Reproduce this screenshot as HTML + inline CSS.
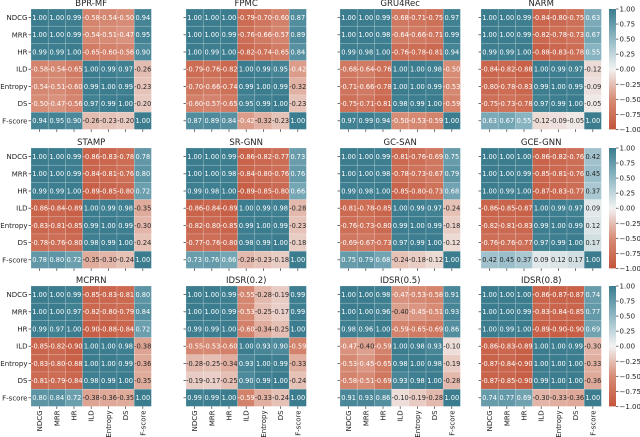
<!DOCTYPE html>
<html><head><meta charset="utf-8">
<style>
html,body{margin:0;padding:0;background:#fff;}
svg{display:block;font-family:"DejaVu Sans","Liberation Sans",sans-serif;}
</style></head>
<body>
<svg id="fig" width="640" height="437" viewBox="0 0 640 437" xmlns="http://www.w3.org/2000/svg">
<defs>
<linearGradient id="cbg" x1="0" y1="1" x2="0" y2="0">
<stop offset="0" stop-color="rgb(195,84,58)"/>
<stop offset="0.25" stop-color="rgb(215,140,118)"/>
<stop offset="0.5" stop-color="rgb(242,242,242)"/>
<stop offset="0.75" stop-color="rgb(145,185,197)"/>
<stop offset="1" stop-color="rgb(59,125,143)"/>
</linearGradient>
</defs>
</svg>
<script>
const metrics = ["NDCG","MRR","HR","ILD","Entropy","DS","F-score"];
const models = ["BPR-MF","FPMC","GRU4Rec","NARM","STAMP","SR-GNN","GC-SAN","GCE-GNN","MCPRN","IDSR(0.2)","IDSR(0.5)","IDSR(0.8)"];
const cbTicks = [1,0.75,0.5,0.25,0,-0.25,-0.5,-0.75,-1];
const mBPRMF=[[1,1,.99,-.58,-.54,-.50,.94],[1,1,.99,-.54,-.51,-.47,.95],[.99,.99,1,-.65,-.60,-.56,.90],[-.58,-.54,-.65,1,.99,.97,-.26],[-.54,-.51,-.60,.99,1,.99,-.23],[-.50,-.47,-.56,.97,.99,1,-.20],[.94,.95,.90,-.26,-.23,-.20,1]];
const mFPMC=[[1,1,1,-.79,-.70,-.60,.87],[1,1,.99,-.76,-.66,-.57,.89],[1,.99,1,-.82,-.74,-.65,.84],[-.79,-.76,-.82,1,.99,.95,-.42],[-.70,-.66,-.74,.99,1,.99,-.32],[-.60,-.57,-.65,.95,.99,1,-.23],[.87,.89,.84,-.42,-.32,-.23,1]];
const mGRU4Rec=[[1,1,.99,-.68,-.71,-.75,.97],[1,1,.98,-.64,-.66,-.71,.99],[.99,.98,1,-.76,-.78,-.81,.94],[-.68,-.64,-.76,1,1,.98,-.50],[-.71,-.66,-.78,1,1,.99,-.53],[-.75,-.71,-.81,.98,.99,1,-.59],[.97,.99,.94,-.50,-.53,-.59,1]];
const mNARM=[[1,1,.99,-.84,-.80,-.75,.63],[1,1,.99,-.82,-.78,-.73,.67],[.99,.99,1,-.88,-.83,-.78,.55],[-.84,-.82,-.88,1,.99,.97,-.12],[-.80,-.78,-.83,.99,1,.99,-.09],[-.75,-.73,-.78,.97,.99,1,-.05],[.63,.67,.55,-.12,-.09,-.05,1]];
const mSTAMP=[[1,1,.99,-.86,-.83,-.78,.78],[1,1,.99,-.84,-.81,-.76,.80],[.99,.99,1,-.89,-.85,-.80,.72],[-.86,-.84,-.89,1,.99,.98,-.35],[-.83,-.81,-.85,.99,1,.99,-.30],[-.78,-.76,-.80,.98,.99,1,-.24],[.78,.80,.72,-.35,-.30,-.24,1]];
const mSRGNN=[[1,1,.99,-.86,-.82,-.77,.73],[1,1,.98,-.84,-.80,-.76,.76],[.99,.98,1,-.89,-.85,-.80,.66],[-.86,-.84,-.89,1,.99,.98,-.28],[-.82,-.80,-.85,.99,1,.99,-.23],[-.77,-.76,-.80,.98,.99,1,-.18],[.73,.76,.66,-.28,-.23,-.18,1]];
const mGCSAN=[[1,1,.99,-.81,-.76,-.69,.75],[1,1,.98,-.78,-.73,-.67,.79],[.99,.98,1,-.85,-.80,-.73,.68],[-.81,-.78,-.85,1,.99,.97,-.24],[-.76,-.73,-.80,.99,1,.99,-.18],[-.69,-.67,-.73,.97,.99,1,-.12],[.75,.79,.68,-.24,-.18,-.12,1]];
const mGCEGNN=[[1,1,1,-.86,-.82,-.76,.42],[1,1,.99,-.85,-.81,-.76,.45],[1,.99,1,-.87,-.83,-.77,.37],[-.86,-.85,-.87,1,.99,.97,.09],[-.82,-.81,-.83,.99,1,.99,.12],[-.76,-.76,-.77,.97,.99,1,.17],[.42,.45,.37,.09,.12,.17,1]];
const mMCPRN=[[1,1,.99,-.85,-.83,-.81,.80],[1,1,.97,-.82,-.80,-.79,.84],[.99,.97,1,-.90,-.88,-.84,.72],[-.85,-.82,-.90,1,1,.98,-.38],[-.83,-.80,-.88,1,1,.99,-.36],[-.81,-.79,-.84,.98,.99,1,-.35],[.80,.84,.72,-.38,-.36,-.35,1]];
const mIDSR02=[[1,1,.99,-.55,-.28,-.19,.99],[1,1,.99,-.53,-.25,-.17,.99],[.99,.99,1,-.60,-.34,-.25,1],[-.55,-.53,-.60,1,.93,.90,-.59],[-.28,-.25,-.34,.93,1,.99,-.33],[-.19,-.17,-.25,.90,.99,1,-.24],[.99,.99,1,-.59,-.33,-.24,1]];
const mIDSR05=[[1,1,.98,-.47,-.53,-.58,.91],[1,1,.96,-.40,-.45,-.51,.93],[.98,.96,1,-.59,-.65,-.69,.86],[-.47,-.40,-.59,1,.98,.93,-.10],[-.53,-.45,-.65,.98,1,.98,-.19],[-.58,-.51,-.69,.93,.98,1,-.28],[.91,.93,.86,-.10,-.19,-.28,1]];
const mIDSR08=[[1,1,1,-.86,-.87,-.87,.74],[1,1,.99,-.83,-.84,-.85,.77],[1,.99,1,-.89,-.90,-.90,.69],[-.86,-.83,-.89,1,1,.99,-.30],[-.87,-.84,-.90,1,1,1,-.33],[-.87,-.85,-.90,.99,1,1,-.36],[.74,.77,.69,-.30,-.33,-.36,1]];
const matrices=[mBPRMF,mFPMC,mGRU4Rec,mNARM,mSTAMP,mSRGNN,mGCSAN,mGCEGNN,mMCPRN,mIDSR02,mIDSR05,mIDSR08];

const NS="http://www.w3.org/2000/svg";
const svg=document.getElementById('fig');
const colX=[31,186,340,481], rowY=[9,148,286];
const CW=17.2, CH=17.2, HW=CW*7, HH=CH*7;
const stops=[[-1,[195,84,58]],[-0.5,[215,140,118]],[0,[242,242,242]],[0.5,[145,185,197]],[1,[59,125,143]]];
function cmap(v){
  v=Math.max(-1,Math.min(1,v));
  for(let i=0;i<stops.length-1;i++){
    const a=stops[i],b=stops[i+1];
    if(v<=b[0]){const t=(v-a[0])/(b[0]-a[0]);return a[1].map((c,k)=>Math.round(c+(b[1][k]-c)*t));}
  }
  return stops[4][1];
}
function lum(c){const f=x=>{x/=255;return x<=0.03928?x/12.92:Math.pow((x+0.055)/1.055,2.4);};return 0.2126*f(c[0])+0.7152*f(c[1])+0.0722*f(c[2]);}
function mk(tag,attrs,parent){const e=document.createElementNS(NS,tag);for(const k in attrs)e.setAttribute(k,attrs[k]);(parent||svg).appendChild(e);return e;}
function fmt(v){return (v<0?'-':'')+Math.abs(v).toFixed(2);}
function xs(j,x0){return x0+j*CW;}
function ys(i,y0){return y0+i*CH;}

models.forEach((name,p)=>{
  const c=p%4,r=Math.floor(p/4),x0=colX[c],y0=rowY[r],M=matrices[p];
  const g=mk('g',{});
  
  
  const t=mk('text',{x:x0+HW/2,y:y0-3,'text-anchor':'middle','font-size':'8.5','fill':'#222'},g);
  t.textContent=name;
  
  
  for(let i=0;i<7;i++)for(let j=0;j<7;j++){
    const v=M[i][j],col=cmap(v);
    const rc=mk('rect',{x:xs(j,x0),y:ys(i,y0),width:CW,height:CH,fill:`rgb(${col})`,stroke:'rgba(255,255,255,0.35)','stroke-width':'0.5'},g);
    
    
    const tx=mk('text',{x:xs(j,x0)+CW/2,y:ys(i,y0)+CH/2+2.4,'text-anchor':'middle','font-size':'6.6','fill':lum(col)<0.42?'#fff':'#262626'},g);
    tx.textContent=fmt(v);
    
    
  }
  for(let i=0;i<7;i++){
    mk('line',{x1:x0-2.5,x2:x0,y1:ys(i,y0)+CH/2,y2:ys(i,y0)+CH/2,stroke:'#333','stroke-width':'0.7'},g);
    mk('line',{x1:xs(i,x0)+CW/2,x2:xs(i,x0)+CW/2,y1:y0+HH,y2:y0+HH+2.5,stroke:'#333','stroke-width':'0.7'},g);
    if(c===0){
      const yl=mk('text',{x:x0-3.5,y:ys(i,y0)+CH/2+2.5,'text-anchor':'end','font-size':'7','fill':'#222'},g);
      yl.textContent=metrics[i];
      
      
    }
    if(r===2){
      const cx=xs(i,x0)+CW/2+2.5,cy=y0+HH+4;
      const xl=mk('text',{x:cx,y:cy,'text-anchor':'end','font-size':'7','fill':'#222',transform:`rotate(-90 ${cx} ${cy})`},g);
      xl.textContent=metrics[i];
      
      
    }
  }
});

rowY.forEach((y0,r)=>{
  const g=mk('g',{});
  
  
  mk('rect',{x:609,y:y0,width:7,height:HH,fill:'url(#cbg)'},g);
  cbTicks.forEach(v=>{
    const y=y0+(1-v)/2*HH;
    mk('line',{x1:616,x2:618.5,y1:y,y2:y,stroke:'#333','stroke-width':'0.7'},g);
    const t=mk('text',{x:619.5,y:y+2.5,'font-size':'7','fill':'#222'},g);
    t.textContent=(v<0?'\u2212':'')+Math.abs(v).toFixed(2);
    
    
  });
});
</script>
</body></html>
